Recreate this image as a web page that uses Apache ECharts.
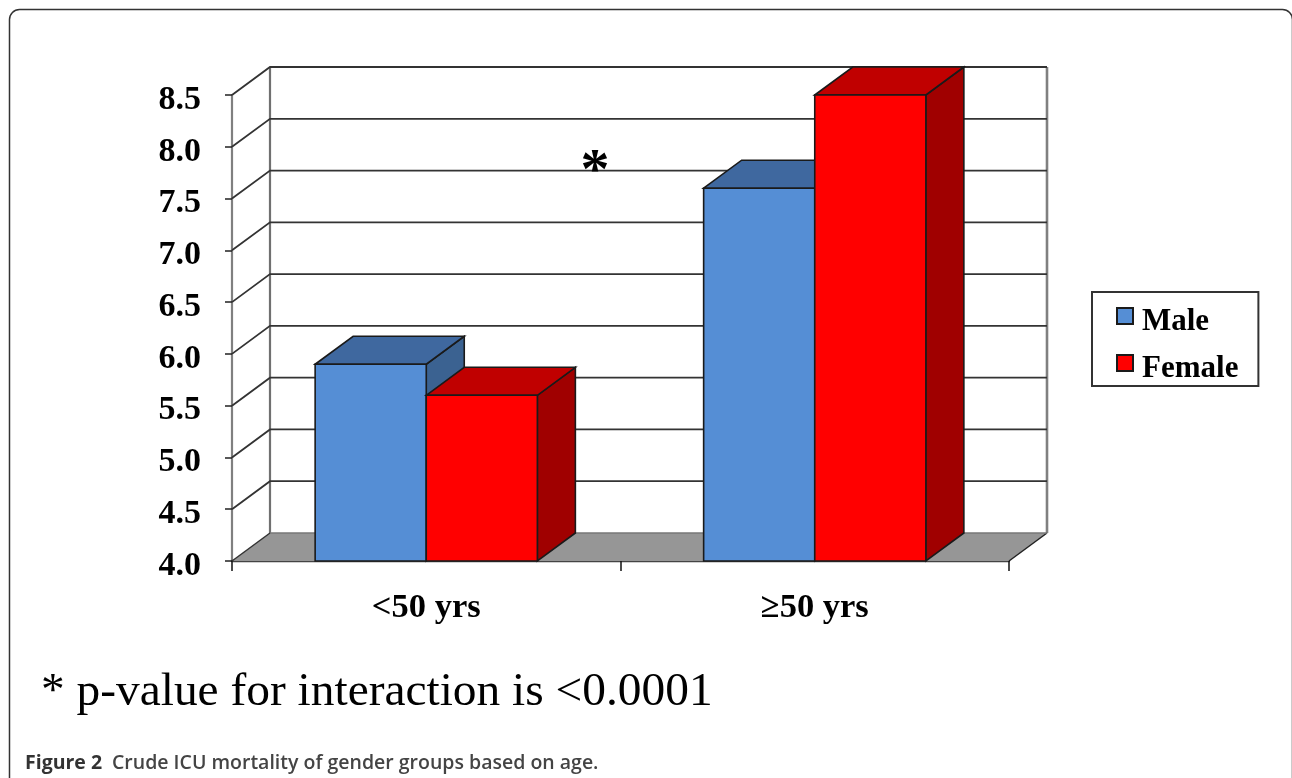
<!DOCTYPE html>
<html><head><meta charset="utf-8">
<style>html,body{margin:0;padding:0;background:#fff}#c{width:1292px;height:778px}</style>
<script src="https://cdn.jsdelivr.net/npm/echarts@6/dist/echarts.min.js"></script>
</head><body><div id="c"></div>
<script>
const categories = ['<50 yrs', '≥50 yrs'];
const maleValues = [5.9, 7.6];
const femaleValues = [5.6, 8.5];
const yTicks = [4.0, 4.5, 5.0, 5.5, 6.0, 6.5, 7.0, 7.5, 8.0, 8.5];
const footnote = '* p-value for interaction is <0.0001';
const captionBold = 'Figure 2';
const captionText = 'Crude ICU mortality of gender groups based on age.';

const DX = 38, DY = -28, BAR_FRAC = 0.286;
const Y_MIN = 4, SERIF = '"Liberation Serif","Times New Roman",serif';
const chart = echarts.init(document.getElementById('c'), null, {renderer: 'canvas'});

function poly(points, fill, stroke, w) {
  return {type: 'polygon', shape: {points}, style: {fill, stroke: stroke || '#1a1a1a', lineWidth: w == null ? 1.6 : w, lineJoin: 'miter'}};
}
function line(points, stroke, w) {
  return {type: 'polyline', shape: {points}, style: {fill: null, stroke, lineWidth: w}};
}
function barRender(offsetSign, front, top, side) {
  return function (params, api) {
    const cat = api.value(0), val = api.value(1);
    const band = api.size([1, 0])[0];
    const w = band * BAR_FRAC;
    const t = api.coord([cat, val]), b = api.coord([cat, Y_MIN]);
    const x0 = offsetSign < 0 ? t[0] - w : t[0], x1 = x0 + w;
    const yt = t[1], yb = b[1];
    return {type: 'group', children: [
      poly([[x1, yt], [x1 + DX, yt + DY], [x1 + DX, yb + DY], [x1, yb]], side),
      poly([[x0, yt], [x0 + DX, yt + DY], [x1 + DX, yt + DY], [x1, yt]], top),
      poly([[x0, yt], [x1, yt], [x1, yb], [x0, yb]], front)
    ]};
  };
}
function frameRender(params, api) {
  const val = api.value(0);
  const cs = params.coordSys;
  const L = cs.x, R = cs.x + cs.width;
  const y = api.coord([0, val])[1];
  const kids = [];
  if (val === Y_MIN) {
    const top = cs.y + DY;
    kids.push(poly([[L, y], [L + DX, y + DY], [R + DX, y + DY], [R, y]], '#969696', 'none', 0));
    kids.push(line([[L + DX, y + DY], [L + DX, top]], '#707070', 2.2));
    kids.push(line([[R + DX, y + DY], [R + DX, top]], '#808080', 2.6));
    kids.push(line([[L, y], [L + DX, y + DY]], '#333', 1.5));
    kids.push(line([[R, y], [R + DX, y + DY]], '#222', 1.5));
    kids.push(line([[L + DX, y + DY], [R + DX, y + DY]], '#777', 1.5));
  } else {
    kids.push(line([[L, y], [L + DX, y + DY], [R + DX, y + DY]], '#333', 1.8));
  }
  return {type: 'group', children: kids};
}

chart.setOption({
  animation: false,
  backgroundColor: '#fff',
  grid: {left: 232, right: 283, top: 95, bottom: 217},
  xAxis: {
    type: 'category', data: categories,
    axisLine: {lineStyle: {color: '#444', width: 2.4}},
    axisTick: {show: true, length: 10, alignWithLabel: false, lineStyle: {color: '#111', width: 1.5}},
    axisLabel: {interval: 0, margin: 30, color: '#000', fontFamily: SERIF, fontWeight: 'bold', fontSize: 34.5}
  },
  yAxis: {
    type: 'value', min: 4, max: 8.5, interval: 0.5,
    splitLine: {show: false},
    axisLine: {show: true, lineStyle: {color: '#808080', width: 2.2}},
    axisTick: {show: true, length: 7, lineStyle: {color: '#222', width: 1.5}},
    axisLabel: {margin: 31, color: '#000', fontFamily: SERIF, fontWeight: 'bold', fontSize: 34,
      verticalAlign: 'top', lineHeight: 10,
      formatter: v => v.toFixed(1)}
  },
  legend: {
    left: 1092, top: 292, orient: 'vertical', padding: [3, 20, 2, 24], itemGap: 5,
    itemWidth: 16, itemHeight: 16, icon: 'rect', borderColor: '#333', borderWidth: 2, backgroundColor: '#fff',
    formatter: name => '{a|' + name + '}',
    textStyle: {rich: {a: {color: '#000', fontFamily: SERIF, fontWeight: 'bold', fontSize: 31, lineHeight: 20, padding: [11, 0, 0, 4]}}},
    data: ['Male', 'Female']
  },
  series: [
    {type: 'custom', name: 'frame', z: 1, data: yTicks.map(v => [v]), renderItem: frameRender, encode: {y: 0}, silent: true},
    {type: 'custom', name: 'Male', z: 2, itemStyle: {color: '#558ED5', borderColor: '#1a1a1a', borderWidth: 1.5},
      data: maleValues.map((v, i) => [i, v]), encode: {x: 0, y: 1},
      renderItem: barRender(-1, '#558ED5', '#3F689F', '#3B6291')},
    {type: 'custom', name: 'Female', z: 3, itemStyle: {color: '#FF0000', borderColor: '#1a1a1a', borderWidth: 1.5},
      data: femaleValues.map((v, i) => [i, v]), encode: {x: 0, y: 1},
      renderItem: barRender(1, '#FF0000', '#C00000', '#A00000')}
  ],
  graphic: [
    {type: 'rect', z: -10, shape: {x: 9.5, y: 9.5, width: 1283, height: 820, r: 10}, style: {fill: 'none', stroke: '#333', lineWidth: 1.5}},
    {type: 'text', x: 595, y: 173, z: 10, style: {text: '*', fill: '#000', font: 'bold 58px ' + SERIF, textAlign: 'center', textVerticalAlign: 'middle'}},
    {type: 'text', x: 41, y: 693, style: {text: footnote, fill: '#000', font: '47.4px ' + SERIF, textAlign: 'left', textVerticalAlign: 'middle'}},
    {type: 'text', x: 25, y: 763, style: {text: captionBold, fill: '#333', font: 'bold 19.5px "Open Sans",sans-serif', textAlign: 'left', textVerticalAlign: 'middle'}},
    {type: 'text', x: 112, y: 763, style: {text: captionText, fill: '#444', font: '600 19.5px "Open Sans",sans-serif', textAlign: 'left', textVerticalAlign: 'middle'}}
  ]
});
</script></body></html>
